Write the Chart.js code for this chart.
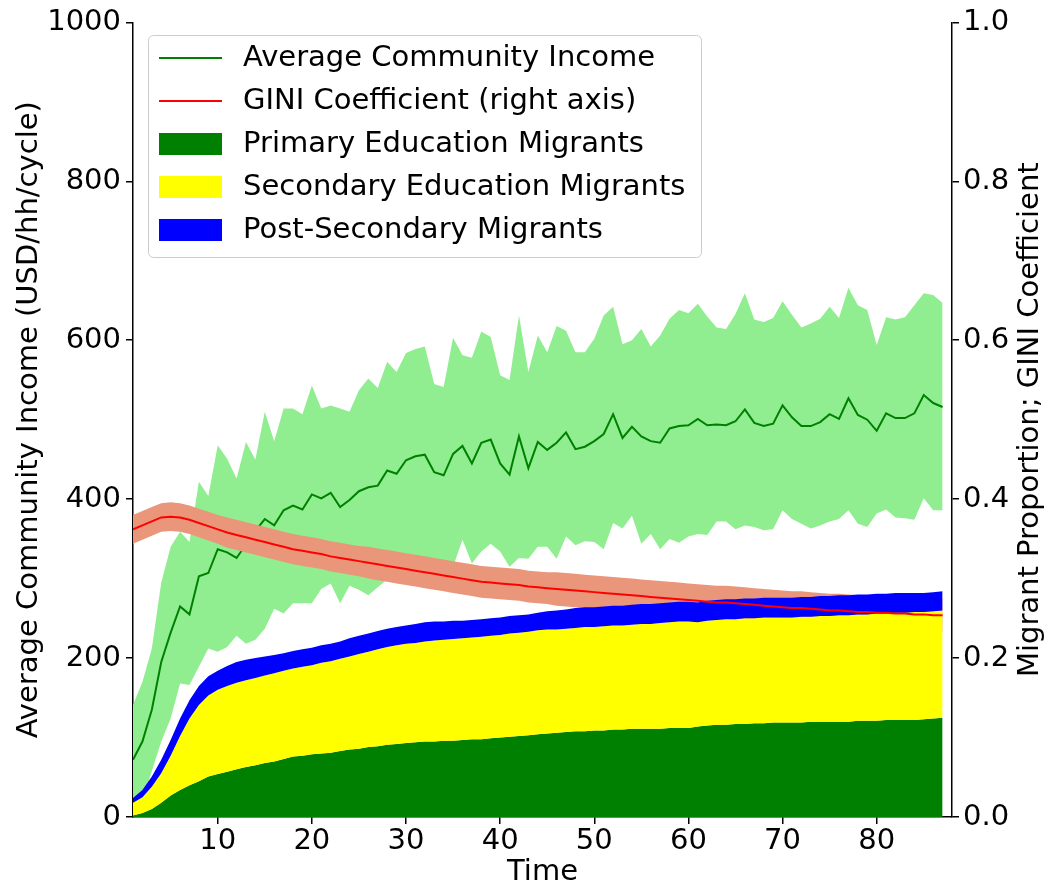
<!DOCTYPE html>
<html>
<head>
<meta charset="utf-8">
<script src="https://cdn.jsdelivr.net/npm/chart.js@4.4.0/dist/chart.umd.min.js"></script>
<style>
  html, body { margin: 0; padding: 0; background: #fff; }
</style>
</head>
<body>
<canvas id="myChart" width="1046" height="887"></canvas>
<script>
// time steps (model cycles)
const time = Array.from({ length: 87 }, (_, i) => i + 1)

// average community income and the +/- band around it (USD/hh/cycle)
const avgIncome = [
    72, 95, 135, 195, 232, 265, 255, 303, 307, 337,
    333, 326, 343, 360, 375, 367, 386, 392, 387, 406,
    401, 408, 390, 399, 410, 415, 417, 436, 432, 449,
    454, 456, 434, 430, 457, 467, 445, 471, 475, 445,
    431, 479, 439, 472, 462, 471, 484, 463, 466, 473,
    482, 507, 477, 491, 479, 473, 471, 489, 492, 493,
    501, 493, 494, 493, 498, 513, 496, 492, 495, 518,
    503, 492, 492, 497, 507, 501, 527, 506, 500, 486,
    508, 502, 502, 508, 531, 521, 516
]
const incomeHigh = [
    141, 170, 212, 295, 340, 359, 346, 422, 404, 468,
    451, 426, 472, 450, 510, 473, 514, 514, 507, 543,
    514, 518, 514, 510, 537, 552, 540, 573, 560, 584,
    589, 592, 545, 541, 603, 581, 578, 611, 604, 556,
    550, 631, 560, 606, 585, 618, 612, 585, 585, 602,
    631, 642, 595, 600, 614, 592, 606, 627, 638, 634,
    646, 630, 616, 614, 633, 659, 626, 623, 628, 649,
    632, 616, 621, 627, 642, 628, 666, 644, 638, 594,
    629, 626, 629, 644, 659, 657, 647
]
const incomeLow = [
    3, 20, 58, 95, 124, 168, 166, 189, 212, 208,
    214, 228, 218, 223, 237, 262, 256, 269, 269, 269,
    287, 294, 269, 291, 286, 279, 289, 299, 304, 314,
    319, 320, 323, 319, 315, 349, 319, 334, 344, 334,
    315, 326, 325, 340, 340, 325, 353, 342, 347, 346,
    337, 370, 363, 379, 344, 356, 337, 350, 345, 353,
    356, 355, 372, 372, 362, 367, 365, 361, 362, 386,
    375, 369, 363, 367, 372, 375, 386, 369, 365, 382,
    387, 377, 376, 374, 401, 386, 386
]

// GINI coefficient and its spread (right axis)
const gini = [
    .362, .367, .372, .377, .378, .377, .374, .370, .366, .362,
    .358, .355, .352, .349, .346, .343, .340, .337, .335, .333,
    .331, .328, .326, .324, .322, .320, .318, .316, .314, .312,
    .310, .308, .306, .304, .302, .300, .298, .296, .295, .294,
    .293, .292, .290, .289, .288, .287, .286, .285, .284, .283,
    .282, .281, .280, .279, .278, .277, .276, .275, .274, .273,
    .272, .271, .270, .270, .269, .268, .267, .266, .265, .264,
    .263, .263, .262, .261, .260, .260, .259, .258, .258, .257,
    .257, .256, .256, .255, .255, .254, .254
]
const giniSd = [
    .018, .018, .018, .018, .018, .018, .018, .018, .018, .018,
    .019, .019, .019, .019, .019, .019, .019, .019, .019, .019,
    .019, .019, .019, .019, .019, .020, .020, .020, .020, .020,
    .020, .020, .020, .020, .020, .020, .020, .020, .020, .020,
    .020, .020, .020, .020, .020, .021, .021, .021, .021, .021,
    .021, .021, .021, .021, .021, .021, .021, .021, .021, .021,
    .021, .021, .021, .021, .021, .021, .021, .021, .021, .021,
    .021, .021, .021, .021, .021, .021, .021, .021, .021, .021,
    .021, .021, .021, .021, .021, .021, .021
]

// migrant proportions by education level (right axis, stacked)
const primaryMigrants = [
    .002, .005, .010, .018, .027, .034, .040, .045, .051, .054,
    .057, .060, .063, .065, .068, .070, .073, .076, .077, .079,
    .080, .081, .083, .085, .086, .088, .089, .091, .092, .093,
    .094, .095, .095, .096, .096, .097, .098, .098, .099, .100,
    .101, .102, .103, .104, .105, .106, .107, .108, .108, .109,
    .109, .110, .110, .111, .111, .111, .111, .112, .112, .112,
    .114, .115, .116, .116, .117, .117, .118, .118, .119, .119,
    .119, .119, .120, .120, .120, .120, .120, .121, .121, .121,
    .122, .122, .122, .122, .123, .124, .125
]
const secondaryMigrants = [
    .016, .020, .028, .037, .050, .068, .084, .096, .102, .106,
    .108, .109, .109, .110, .110, .111, .111, .111, .112, .112,
    .114, .115, .116, .117, .119, .120, .122, .123, .124, .125,
    .125, .126, .127, .127, .128, .128, .128, .129, .129, .129,
    .130, .130, .130, .131, .131, .130, .130, .130, .131, .130,
    .131, .131, .131, .131, .132, .132, .133, .133, .134, .134,
    .131, .132, .132, .133, .132, .133, .132, .133, .132, .132,
    .132, .133, .132, .133, .133, .134, .134, .134, .134, .135,
    .134, .135, .135, .136, .135, .135, .135
]
const postSecondaryMigrants = [
    .006, .009, .013, .017, .020, .022, .023, .024, .024, .024,
    .025, .026, .026, .025, .024, .023, .022, .022, .022, .022,
    .022, .022, .022, .023, .023, .023, .023, .023, .023, .023,
    .024, .024, .024, .023, .023, .022, .022, .022, .022, .022,
    .022, .022, .022, .022, .023, .024, .024, .025, .025, .025,
    .025, .025, .025, .025, .025, .025, .025, .025, .025, .025,
    .025, .025, .025, .025, .025, .025, .025, .025, .025, .025,
    .025, .025, .025, .025, .025, .025, .025, .025, .025, .025,
    .025, .025, .025, .024, .024, .024, .024
]

const xTicks = [10, 20, 30, 40, 50, 60, 70, 80]
const leftTitle = 'Average Community Income (USD/hh/cycle)'
const rightTitle = 'Migrant Proportion; GINI Coefficient'

const FONT = 'DejaVu Sans'
const FONT_SIZE = 29
Chart.defaults.font.family = FONT
Chart.defaults.font.size = FONT_SIZE
Chart.defaults.color = '#000'

function pts(arr) {
    return arr.map((v, i) => ({ x: time[i], y: v }))
}

// running totals for the stacked areas
const primaryTop = primaryMigrants
const secondaryTop = secondaryMigrants.map((v, i) => primaryTop[i] + v)
const postTop = postSecondaryMigrants.map((v, i) => secondaryTop[i] + v)
const giniHigh = gini.map((v, i) => v + giniSd[i])
const giniLow = gini.map((v, i) => v - giniSd[i])

const legendItems = [
    { text: 'Average Community Income', color: '#008000', kind: 'line' },
    { text: 'GINI Coefficient (right axis)', color: '#ff0000', kind: 'line' },
    { text: 'Primary Education Migrants', color: '#008000', kind: 'patch' },
    { text: 'Secondary Education Migrants', color: '#ffff00', kind: 'patch' },
    { text: 'Post-Secondary Migrants', color: '#0000ff', kind: 'patch' }
]

const base = { pointRadius: 0, tension: 0, borderWidth: 0 }

const data = {
    datasets: [
        { ...base, label: 'income high', data: pts(incomeHigh), yAxisID: 'y', fill: '+1', backgroundColor: '#90EE90', order: 10 },
        { ...base, label: 'income low', data: pts(incomeLow), yAxisID: 'y', fill: false, order: 10 },
        { ...base, label: 'Average Community Income', data: pts(avgIncome), yAxisID: 'y', fill: false, borderColor: '#008000', borderWidth: 2, order: 9 },
        { ...base, label: 'gini high', data: pts(giniHigh), yAxisID: 'y2', fill: '+1', backgroundColor: '#E9967A', order: 8 },
        { ...base, label: 'gini low', data: pts(giniLow), yAxisID: 'y2', fill: false, order: 8 },
        { ...base, label: 'Primary Education Migrants', data: pts(primaryTop), yAxisID: 'y2', fill: 'origin', backgroundColor: '#008000', order: 7 },
        { ...base, label: 'Secondary Education Migrants', data: pts(secondaryTop), yAxisID: 'y2', fill: '-1', backgroundColor: '#ffff00', order: 6 },
        { ...base, label: 'Post-Secondary Migrants', data: pts(postTop), yAxisID: 'y2', fill: '-1', backgroundColor: '#0000ff', order: 5 },
        { ...base, label: 'GINI Coefficient (right axis)', data: pts(gini), yAxisID: 'y2', fill: false, borderColor: '#ff0000', borderWidth: 2, order: 4 }
    ]
}

// legend box and the right-hand axis title, drawn on top
const overlay = {
    id: 'overlay',
    afterDraw(chart) {
        const ctx = chart.ctx
        ctx.save()
        ctx.beginPath()
        ctx.roundRect(148.5, 35.5, 553, 222, 5)
        ctx.fillStyle = 'rgba(255,255,255,0.8)'
        ctx.fill()
        ctx.strokeStyle = '#cccccc'
        ctx.lineWidth = 1
        ctx.stroke()

        ctx.font = FONT_SIZE + 'px "' + FONT + '"'
        ctx.textBaseline = 'middle'
        ctx.textAlign = 'left'
        legendItems.forEach((item, i) => {
            const y = 58 + i * 43
            if (item.kind === 'line') {
                ctx.strokeStyle = item.color
                ctx.lineWidth = 2
                ctx.beginPath()
                ctx.moveTo(159, y)
                ctx.lineTo(222, y)
                ctx.stroke()
            } else {
                ctx.fillStyle = item.color
                ctx.fillRect(159, y - 11, 63, 22)
            }
            ctx.fillStyle = '#000'
            ctx.fillText(item.text, 243, y)
        })

        const area = chart.chartArea
        ctx.translate(chart.width - 16, (area.top + area.bottom) / 2)
        ctx.rotate(-Math.PI / 2)
        ctx.textAlign = 'center'
        ctx.fillText(rightTitle, 0, 0)
        ctx.restore()
    }
}

const axisGrid = { drawOnChartArea: false, drawTicks: true, tickLength: 7, color: '#000', lineWidth: 1.5 }
const axisBorder = { display: true, color: '#000', width: 1.5 }

const config = {
    type: 'line',
    data: data,
    options: {
        responsive: false,
        animation: false,
        devicePixelRatio: 1,
        layout: { padding: { top: 22, left: 0, right: 0, bottom: 0 } },
        plugins: { legend: { display: false }, tooltip: { enabled: false } },
        scales: {
            x: {
                type: 'linear',
                min: 1,
                max: 88,
                grid: axisGrid,
                border: axisBorder,
                afterBuildTicks: (scale) => { scale.ticks = xTicks.map(v => ({ value: v })) },
                afterFit: (scale) => { scale.height = 70 },
                ticks: { padding: 0, maxRotation: 0, callback: (v) => String(v) },
                title: { display: true, text: 'Time', font: { size: FONT_SIZE, lineHeight: 1 }, padding: 0 }
            },
            y: {
                position: 'left',
                min: 0,
                max: 1000,
                grid: axisGrid,
                border: axisBorder,
                ticks: { stepSize: 200, padding: 5, callback: (v) => String(v) },
                afterFit: (scale) => { scale.width = 133 },
                title: { display: true, text: leftTitle, font: { size: FONT_SIZE, lineHeight: 1 }, padding: { top: 15 } }
            },
            y2: {
                position: 'right',
                min: 0,
                max: 1,
                grid: axisGrid,
                border: axisBorder,
                ticks: { stepSize: 0.2, padding: 4, callback: (v) => v.toFixed(1) },
                afterFit: (scale) => { scale.width = 94 }
            }
        }
    },
    plugins: [overlay]
}

var chart

window.addEventListener('DOMContentLoaded', () => {
    chart = new Chart(document.getElementById('myChart'), config)
})
</script>
</body>
</html>
